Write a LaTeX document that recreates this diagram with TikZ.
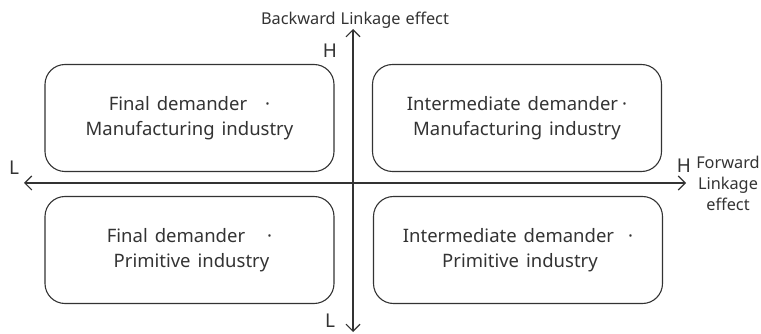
\documentclass[tikz,border=0pt]{standalone}
\usepackage{fontspec}
\setmainfont{Noto Sans}
\usetikzlibrary{arrows.meta}
\definecolor{ink}{HTML}{333333}
\newcommand\boxfont{\fontsize{18.5}{25}\selectfont\spaceskip=7pt plus 1pt\relax}
\newcommand\axfont{\fontsize{16.3}{21}\selectfont\spaceskip=5pt plus 1pt\relax}
\tikzset{
  quad/.style={draw=ink, line width=1.1pt, rounded corners=20pt, minimum width=289pt, minimum height=107pt, align=center, font=\boxfont, text=ink, inner sep=0pt},
  axis/.style={draw=ink, line width=1.1pt, {Straight Barb[length=7pt,width=14pt,line width=1.1pt]}-{Straight Barb[length=7pt,width=14pt,line width=1.1pt]}},
  lab/.style={font=\fontsize{19}{20}\selectfont, text=ink, inner sep=0pt},
  axlab/.style={font=\axfont, text=ink, inner sep=0pt, align=center}
}
\begin{document}
\begin{tikzpicture}[x=1pt,y=-1pt]
\useasboundingbox (0,0) rectangle (761,334);
\node[quad] (fm) at (189.5,118) {Final demander\hspace{18pt}·\\Manufacturing industry};
\node[quad] (im) at (517,118) {Intermediate demander\hspace{4pt}·\\Manufacturing industry};
\node[quad] (fp) at (189.5,250) {Final demander\hspace{22pt}·\\\hspace{4pt}Primitive industry};
\node[quad] (ip) at (518,250) {Intermediate demander\hspace{14pt}·\\\hspace{4pt}Primitive industry};
\coordinate (vt) at (353,29);
\coordinate (vb) at (353,332);
\coordinate (hl) at (24,183);
\coordinate (hr) at (686,183);
\draw[axis] (vb) -- (vt);
\draw[axis] (hr) -- (hl);
\node[axlab] (bw) at (355,20) {Backward Linkage effect};
\node[lab] (ht) at (330,51) {H};
\node[lab] (ll) at (14,168) {L};
\node[lab] (hrl) at (684,166) {H};
\node[lab] (lb) at (330,321) {L};
\node[axlab] (fw) at (728,183) {Forward\\Linkage\\effect};
\end{tikzpicture}
\end{document}
